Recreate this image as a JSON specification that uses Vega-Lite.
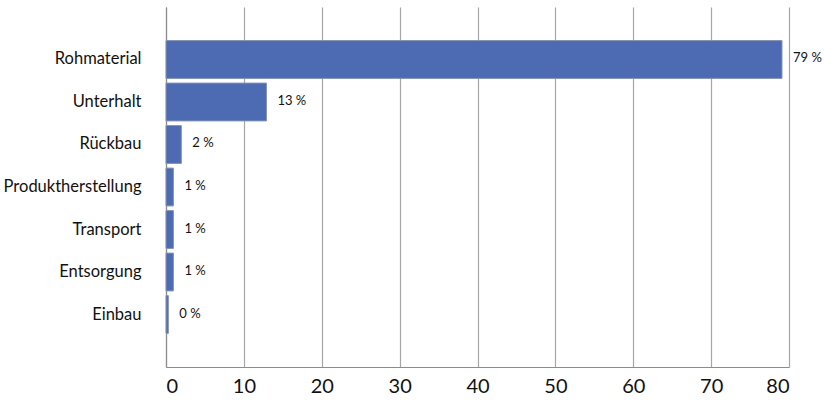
{
  "$schema": "https://vega.github.io/schema/vega-lite/v6.json",
  "width": 623,
  "height": 360,
  "autosize": {"type": "none"},
  "padding": {"left": 166, "top": 7, "right": 35, "bottom": 34},
  "config": {
    "view": {"stroke": null},
    "font": "Lato"
  },
  "data": {
    "values": [
      {"Prozess": "Rohmaterial", "Anteil": 79.1, "Label": "79 %"},
      {"Prozess": "Unterhalt", "Anteil": 12.9, "Label": "13 %"},
      {"Prozess": "Rückbau", "Anteil": 1.97, "Label": "2 %"},
      {"Prozess": "Produktherstellung", "Anteil": 0.95, "Label": "1 %"},
      {"Prozess": "Transport", "Anteil": 0.95, "Label": "1 %"},
      {"Prozess": "Entsorgung", "Anteil": 0.95, "Label": "1 %"},
      {"Prozess": "Einbau", "Anteil": 0.3, "Label": "0 %"}
    ]
  },
  "encoding": {
    "y": {
      "field": "Prozess",
      "type": "nominal",
      "sort": null,
      "title": null,
      "scale": {"paddingInner": 0.11, "paddingOuter": 0.79, "align": 0.5},
      "axis": {
        "ticks": false,
        "labelFontSize": 16.5,
        "labelColor": "#111111",
        "labelPadding": 25,
        "labelLimit": 200,
        "domainColor": "#8c8c8c",
        "domainWidth": 1.2
      }
    }
  },
  "layer": [
    {
      "mark": {"type": "bar", "color": "#4c6bb3", "stroke": "#8592b3", "strokeWidth": 1},
      "encoding": {
        "x": {
          "field": "Anteil",
          "type": "quantitative",
          "title": null,
          "scale": {"domain": [0, 80], "nice": false},
          "axis": {
            "values": [0, 10, 20, 30, 40, 50, 60, 70, 80],
            "ticks": false,
            "grid": true,
            "gridColor": "#a6a6a6",
            "gridWidth": 1.2,
            "domainColor": "#8c8c8c",
            "domainWidth": 1.2,
            "labelFontSize": 20,
            "labelColor": "#111111",
            "labelPadding": 9
          }
        }
      }
    },
    {
      "mark": {"type": "text", "align": "left", "baseline": "middle", "dx": 11, "dy": -1, "fontSize": 13, "color": "#111111"},
      "encoding": {
        "x": {"field": "Anteil", "type": "quantitative"},
        "text": {"field": "Label"}
      }
    }
  ]
}
